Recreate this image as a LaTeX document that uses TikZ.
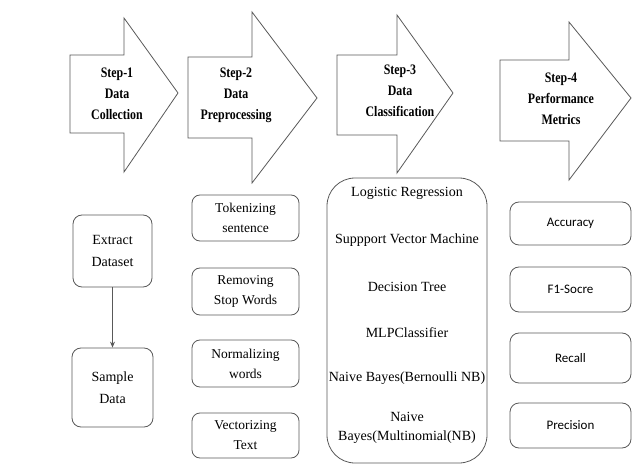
\documentclass[tikz,border=0pt]{standalone}
\usepackage{fontspec}
\setmainfont{Liberation Serif}[BoldFont={Liberation Serif Bold}]
\newfontfamily\stepfont{Liberation Serif Bold}[FakeStretch=0.82]
\newfontfamily\metricfont{Carlito}
\usetikzlibrary{arrows.meta}
\begin{document}
\begin{tikzpicture}[x=1pt,y=-1pt,
  arrowshape/.style={draw=black!65, line width=0.8pt, fill=white, line join=miter},
  steptext/.style={font=\stepfont\fontsize{14.5}{21}\selectfont, align=center, inner sep=0pt},
  roundbox/.style={draw=black!65, line width=0.8pt, rounded corners=9pt, align=center, inner sep=0pt,
                   font=\fontsize{14}{22}\selectfont},
  prebox/.style={roundbox, minimum width=107pt, rounded corners=8pt, font=\fontsize{13.5}{20}\selectfont},
  metricbox/.style={roundbox, minimum width=121pt, font=\metricfont\fontsize{13}{16}\selectfont},
  algotext/.style={font=\fontsize{14}{19}\selectfont, align=center, inner sep=0pt},
  link/.style={draw=black!65, line width=0.8pt, -{Stealth[length=6pt,width=5pt]}}
]
\useasboundingbox (0,0) rectangle (632,465);

% Step arrows
\draw[arrowshape] (70,55) -- (124,55) -- (124,18) -- (178,93) -- (124,172) -- (124,133) -- (70,133) -- cycle;
\draw[arrowshape] (188,57) -- (252,57) -- (252,12) -- (317,98) -- (252,183) -- (252,138) -- (188,138) -- cycle;
\draw[arrowshape] (337,55) -- (397,55) -- (397,15) -- (453,93) -- (397,173) -- (397,135) -- (337,135) -- cycle;
\draw[arrowshape] (500,60) -- (569,60) -- (569,22) -- (631,98) -- (569,180) -- (569,141) -- (500,141) -- cycle;

\node[steptext] (s1) at (117,94) {Step-1\\Data\\Collection};
\node[steptext] (s2) at (236,95) {Step-2\\Data\\Preprocessing};
\node[steptext] (s3) at (400,91) {Step-3\\Data\\Classification};
\node[steptext] (s4) at (561,99) {Step-4\\Performance\\Metrics};

% Step 1 boxes
\node[roundbox, minimum width=79pt, minimum height=72pt] (extract) at (112.5,251) {Extract\\Dataset};
\node[roundbox, minimum width=81pt, minimum height=79pt] (sample) at (112.5,387.5) {Sample\\Data};
\draw[link] (extract) -- (sample);

% Step 2 boxes
\node[prebox, minimum height=46pt] (tok) at (245.5,218) {Tokenizing\\sentence};
\node[prebox, minimum height=47pt] (rem) at (245.5,291.5) {Removing\\Stop Words};
\node[prebox, minimum height=47pt] (norm) at (245.5,363.5) {Normalizing\\words};
\node[prebox, minimum height=45pt] (vec) at (245.5,435.5) {Vectorizing\\Text};

% Step 3 box
\node[draw=black!65, line width=0.8pt, rounded corners=28pt, minimum width=160pt, minimum height=285pt, inner sep=0pt] (cls) at (407,320.5) {};
\node[algotext] (lr) at (407,193) {Logistic Regression};
\node[algotext] (svm) at (407,240) {Suppport Vector Machine};
\node[algotext] (dt) at (407,287) {Decision Tree};
\node[algotext] (mlp) at (407,333) {MLPClassifier};
\node[algotext] (bnb) at (407,378) {Naive Bayes(Bernoulli NB)};
\node[algotext] (mnb) at (407,427.5) {Naive\\Bayes(Multinomial(NB)};

% Step 4 boxes
\node[metricbox, minimum height=43pt] (acc) at (570.5,223.5) {Accuracy};
\node[metricbox, minimum height=45pt] (f1) at (570.5,289.5) {F1-Socre};
\node[metricbox, minimum height=50pt] (rec) at (570.5,358) {Recall};
\node[metricbox, minimum height=45pt] (prec) at (570.5,425.5) {Precision};
\end{tikzpicture}
\end{document}
